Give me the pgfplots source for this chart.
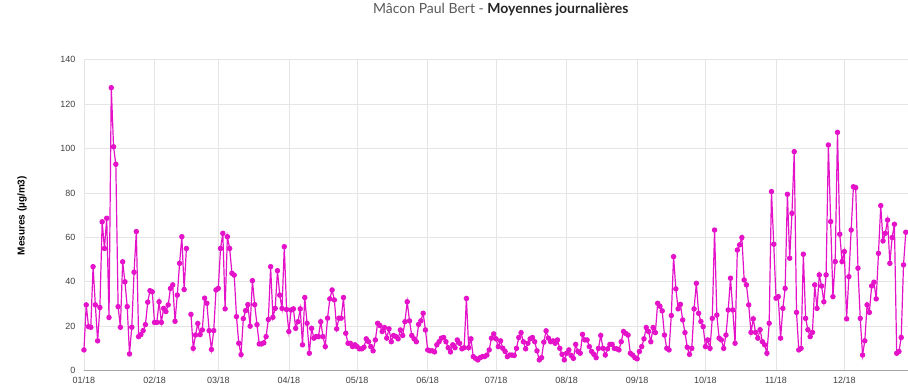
\documentclass[border=0pt]{standalone}
\usepackage{pgfplots}
\pgfplotsset{compat=1.18}
\usepackage{fontspec}
\setmainfont{Liberation Sans}
\newfontfamily\titlefont{Lato}
\definecolor{mag}{RGB}{228,18,200}
\begin{document}
\begin{tikzpicture}
\begin{axis}[
  scale only axis, width=824pt, height=311pt,
  at={(0,0)}, anchor=south west,
  xmin=0, xmax=361.8, ymin=0, ymax=140,
  xtick={0,31,59,90,120,151,181,212,243,273,304,334},
  xticklabels={01/18,02/18,03/18,04/18,05/18,06/18,07/18,08/18,09/18,10/18,11/18,12/18},
  ytick={0,20,...,140},
  grid=major, major grid style={draw=black!10, line width=0.6pt},
  axis line style={draw=none},
  major tick length=0pt,
  /pgf/number format/assume math mode=true,
  tick label style={font=\fontsize{9}{10}\selectfont, color=black!75},
  yticklabel style={xshift=-5pt},
  xticklabel style={yshift=-3pt},
  unbounded coords=jump,
  clip=false,
]
\draw[black!35, line width=0.8pt] (rel axis cs:0,0) -- (rel axis cs:1,0);
\addplot[color=mag, line width=1.2pt, mark=*, mark size=2.1pt, mark options={fill=mag, draw=mag}] coordinates {
(0,9.3)(1,29.6)(2,19.8)(3,19.5)(4,46.8)(5,29.6)(6,13.4)(7,28.4)(8,67)(9,55)(10,68.6)(11,23.9)(12,127.4)(13,100.8)(14,92.9)(15,28.8)(16,19.5)(17,49)(18,40)(19,28.8)(20,7.5)(21,19.5)(22,44.3)(23,62.6)(24,15.3)(25,16.2)(26,18)(27,20.7)(28,30.8)(29,36)(30,35.5)
(31,21.7)(32,21.7)(33,31)(34,21.7)(35,28)(36,26.6)(37,29.6)(38,37)(39,38.6)(40,22.2)(41,34)(42,48.3)(43,60.3)(44,36.5)(45,55)(46,nan)(47,25.3)(48,10)(49,16)(50,21.2)(51,16.2)(52,18.3)(53,32.6)(54,30.3)(55,18)(56,9.5)(57,18)(58,36.3)
(59,37)(60,55)(61,61.8)(62,27.8)(63,60.3)(64,55)(65,43.8)(66,43)(67,24.3)(68,12.3)(69,7.2)(70,23.4)(71,27)(72,29.7)(73,20)(74,40.5)(75,29.7)(76,20.7)(77,12)(78,12)(79,12.5)(80,15.3)(81,23)(82,46.8)(83,24)(84,28)(85,45)(86,34)(87,28)(88,55.8)(89,27.5)
(90,17.6)(91,27.3)(92,27.8)(93,19)(94,22)(95,27.8)(96,11.6)(97,32.9)(98,21.3)(99,7.8)(100,19)(101,14.6)(102,15.3)(103,15.3)(104,22)(105,15.3)(106,10.8)(107,23.6)(108,32.3)(109,36.3)(110,31.8)(111,18.8)(112,23.6)(113,23.6)(114,32.9)(115,16.8)(116,12.3)(117,12.3)(118,10.8)(119,11.6)
(120,10.8)(121,9.8)(122,9.8)(123,10.5)(124,14.3)(125,13)(126,10.8)(127,8.9)(128,13.8)(129,21.3)(130,20.3)(131,17.6)(132,19.4)(133,14.6)(134,18.8)(135,13)(136,15.8)(137,15.3)(138,14.3)(139,18.3)(140,15.8)(141,22)(142,31)(143,22.4)(144,15.8)(145,14.3)(146,13)(147,20.8)(148,22.4)(149,25.8)(150,18.3)
(151,9.3)(152,8.9)(153,8.9)(154,8.4)(155,11.6)(156,13)(157,14.6)(158,14.9)(159,13)(160,10.3)(161,8.4)(162,11.6)(163,10.3)(164,13.8)(165,12.3)(166,9.8)(167,10.3)(168,32.5)(169,10.3)(170,14.3)(171,6.3)(172,5.5)(173,4.8)(174,5.8)(175,6.3)(176,6.3)(177,7)(178,9.3)(179,14.6)(180,16.5)
(181,14.3)(182,10.8)(183,13.4)(184,10)(185,8.6)(186,6.3)(187,7)(188,7)(189,6.8)(190,10)(191,14.9)(192,17.1)(193,13)(194,9.8)(195,12.3)(196,14.3)(197,14.9)(198,13)(199,8.9)(200,4.8)(201,5.8)(202,12.8)(203,17.9)(204,14.6)(205,13)(206,13.4)(207,12.3)(208,13.8)(209,10)(210,7.3)(211,4.8)
(212,7.8)(213,9.3)(214,6.8)(215,5.5)(216,11.8)(217,8.6)(218,7.8)(219,16.3)(220,13.8)(221,13.8)(222,10.8)(223,8.6)(224,7.3)(225,5.8)(226,10)(227,15.8)(228,10)(229,7)(230,9.8)(231,11.8)(232,11.8)(233,10)(234,9.8)(235,9.3)(236,13)(237,17.6)(238,16.7)(239,16)(240,7.8)(241,7)(242,5.8)
(243,5.3)(244,8.6)(245,10.8)(246,14.3)(247,19.4)(248,17.6)(249,13)(250,19.4)(251,17.1)(252,30.3)(253,29)(254,26.9)(255,16)(256,10)(257,9.3)(258,24.8)(259,51.3)(260,36.8)(261,27.8)(262,29.8)(263,22.8)(264,17.1)(265,10.5)(266,7.3)(267,10)(268,27.8)(269,39.3)(270,25.8)(271,22.1)(272,19.8)
(273,10.8)(274,13.8)(275,10)(276,23.5)(277,63.3)(278,25)(279,14.6)(280,13.8)(281,10)(282,16)(283,27.3)(284,41.6)(285,27.3)(286,12.3)(287,54.3)(288,56.6)(289,59.9)(290,40.8)(291,38.6)(292,29.6)(293,17.2)(294,23.3)(295,17.2)(296,14.6)(297,18.4)(298,13)(299,11.6)(300,7.8)(301,21.3)(302,80.6)(303,56.9)
(304,32.6)(305,33.3)(306,14.6)(307,28)(308,37)(309,79.4)(310,50.6)(311,70.8)(312,98.6)(313,26.2)(314,9.3)(315,10)(316,52.4)(317,23.5)(318,18.4)(319,15.3)(320,17.2)(321,38.6)(322,28)(323,43.1)(324,38.1)(325,31)(326,43.1)(327,101.6)(328,67.1)(329,33.3)(330,49.1)(331,107.3)(332,61.4)(333,49.1)
(334,53.6)(335,23.3)(336,42.3)(337,63.3)(338,82.8)(339,82.4)(340,46.1)(341,23.5)(342,7)(343,13.4)(344,29.6)(345,26.2)(346,38.1)(347,39.8)(348,32.3)(349,52.8)(350,74.3)(351,58.4)(352,61.8)(353,67.8)(354,48.3)(355,59.9)(356,65.9)(357,7.8)(358,8.6)(359,14.9)(360,47.6)(361,62.3)
};
\end{axis}
\node[anchor=base, font=\titlefont\fontsize{14}{16}\selectfont] at (417pt,357pt)
  {\textcolor{black!65}{Mâcon Paul Bert -} \textcolor{black!85}{\bfseries Moyennes journalières}};
\node[rotate=90, font=\bfseries\fontsize{10}{11}\selectfont] at (-62pt,155pt) {Mesures (µg/m3)};
\path[use as bounding box] (-84pt,-19pt) rectangle (824pt,330pt);
\end{tikzpicture}
\end{document}
